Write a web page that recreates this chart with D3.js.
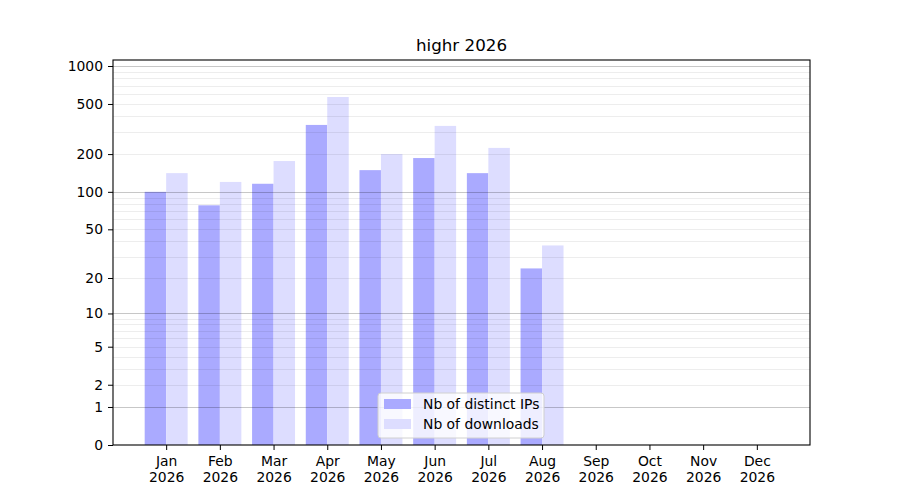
<!DOCTYPE html>
<html lang="en">
  <head>
    <meta charset="utf-8" />
    <title>highr 2026</title>
    <script src="https://cdn.jsdelivr.net/npm/d3@7"></script>
    <style>
      body { margin: 0; background: #fff; }
      text { font-family: "DejaVu Sans", sans-serif; fill: #000; }
    </style>
  </head>
  <body>
    <script>
      // chart data
      var months = ["Jan", "Feb", "Mar", "Apr", "May", "Jun", "Jul", "Aug", "Sep", "Oct", "Nov", "Dec"];
      var year = "2026";
      var distinctIPs = [100, 78, 116, 341, 149, 186, 141, 24, 0, 0, 0, 0];
      var downloads = [141, 120, 176, 568, 200, 335, 224, 37, 0, 0, 0, 0];
      var yTicks = [0, 1, 2, 5, 10, 20, 50, 100, 200, 500, 1000];
      var majorGrid = [1, 10, 100, 1000];
      var minorGrid = [2, 3, 4, 5, 6, 7, 8, 9, 20, 30, 40, 50, 60, 70, 80, 90, 200, 300, 400, 500, 600, 700, 800, 900];

      var w = 900;
      var h = 500;
      // plot area (note: "top" is a reserved window prop, so use other names)
      var pLeft = 113, pRight = 810, pTop = 60, pBottom = 445;
      var barW = 0.4;
      var fontSize = "13.9px";

      var svg = d3.select("body").append("svg").attr("width", w).attr("height", h);

      var xScale = d3.scaleLinear().domain([-0.99, 11.99]).range([pLeft, pRight]);
      // log(1 + x) scale, same as symlog with constant 1
      var yScale = d3.scaleSymlog().constant(1).domain([0, 1116]).range([pBottom, pTop]);

      // bars
      svg.selectAll("rect.ips")
        .data(distinctIPs)
        .enter()
        .append("rect")
        .attr("class", "ips")
        .attr("x", function (d, i) { return xScale(i - barW); })
        .attr("y", function (d) { return yScale(d); })
        .attr("width", xScale(barW) - xScale(0))
        .attr("height", function (d) { return pBottom - yScale(d); })
        .attr("fill", "#aaaaff");

      svg.selectAll("rect.dl")
        .data(downloads)
        .enter()
        .append("rect")
        .attr("class", "dl")
        .attr("x", function (d, i) { return xScale(i); })
        .attr("y", function (d) { return yScale(d); })
        .attr("width", xScale(barW) - xScale(0))
        .attr("height", function (d) { return pBottom - yScale(d); })
        .attr("fill", "#ddddff");

      // grid on top of bars
      svg.selectAll("line.minor")
        .data(minorGrid)
        .enter()
        .append("line")
        .attr("class", "minor")
        .attr("x1", pLeft).attr("x2", pRight)
        .attr("y1", function (d) { return Math.round(yScale(d)) + 0.5; })
        .attr("y2", function (d) { return Math.round(yScale(d)) + 0.5; })
        .attr("stroke", "rgba(0,0,0,0.07)");

      svg.selectAll("line.major")
        .data(majorGrid)
        .enter()
        .append("line")
        .attr("class", "major")
        .attr("x1", pLeft).attr("x2", pRight)
        .attr("y1", function (d) { return Math.round(yScale(d)) + 0.5; })
        .attr("y2", function (d) { return Math.round(yScale(d)) + 0.5; })
        .attr("stroke", "rgba(0,0,0,0.22)");

      // axes
      var yAxis = d3.axisLeft(yScale).tickValues(yTicks).tickSize(5).tickPadding(5).tickFormat(d3.format("d"));
      var gy = svg.append("g").attr("transform", "translate(" + pLeft + ",0)").call(yAxis);
      gy.select(".domain").remove();
      gy.selectAll("text").style("font-size", fontSize).attr("fill", "#000");

      var xAxis = d3.axisBottom(xScale).tickValues(d3.range(months.length)).tickSize(5).tickFormat("");
      var gx = svg.append("g").attr("transform", "translate(0," + pBottom + ")").call(xAxis);
      gx.select(".domain").remove();
      gx.selectAll(".tick").each(function (d) {
        var t = d3.select(this).append("text")
          .attr("text-anchor", "middle")
          .attr("fill", "#000")
          .style("font-size", fontSize);
        t.append("tspan").attr("x", 0).attr("y", 21).text(months[d]);
        t.append("tspan").attr("x", 0).attr("y", 37).text(year);
      });

      svg.append("rect")
        .attr("x", pLeft).attr("y", pTop)
        .attr("width", pRight - pLeft).attr("height", pBottom - pTop)
        .attr("fill", "none").attr("stroke", "#000").attr("stroke-width", 1.1);

      // title
      svg.append("text")
        .attr("x", (pLeft + pRight) / 2).attr("y", 51)
        .attr("text-anchor", "middle")
        .style("font-size", "16.7px")
        .text("highr " + year);

      // legend
      var legendItems = [
        { label: "Nb of distinct IPs", color: "#aaaaff" },
        { label: "Nb of downloads", color: "#ddddff" }
      ];
      var lg = svg.append("g").attr("transform", "translate(378,393)");
      lg.append("rect")
        .attr("width", 166).attr("height", 45)
        .attr("rx", 3)
        .attr("fill", "rgba(255,255,255,0.8)")
        .attr("stroke", "#d0d0d0");
      var rows = lg.selectAll("g.row")
        .data(legendItems)
        .enter()
        .append("g")
        .attr("class", "row")
        .attr("transform", function (d, i) { return "translate(0," + i * 20 + ")"; });
      rows.append("rect")
        .attr("x", 6).attr("y", 6)
        .attr("width", 27).attr("height", 10)
        .attr("fill", function (d) { return d.color; });
      rows.append("text")
        .attr("x", 45).attr("y", 16)
        .style("font-size", fontSize)
        .text(function (d) { return d.label; });
    </script>
  </body>
</html>
